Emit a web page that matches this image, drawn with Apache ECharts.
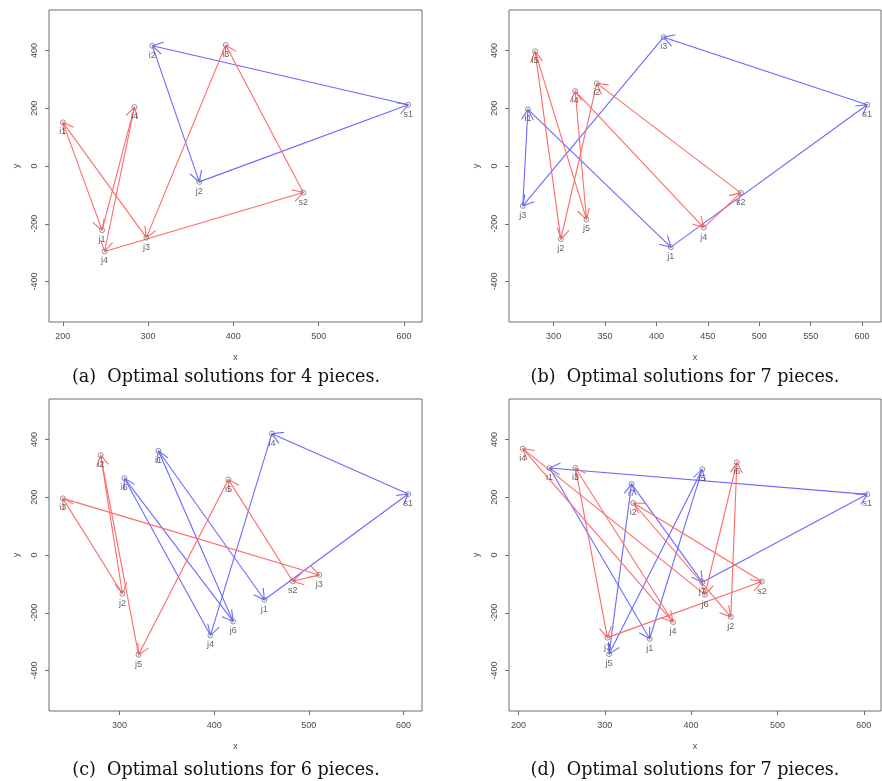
<!DOCTYPE html>
<html>
<head>
<meta charset="utf-8">
<script src="https://cdn.jsdelivr.net/npm/echarts@6/dist/echarts.min.js"></script>
<style>
  html, body { margin: 0; padding: 0; background: #fff; }
  #chart { width: 882px; height: 781px; }
</style>
</head>
<body>
<div id="chart"></div>
<script>
// ---- Panel (a): 4 pieces ----
const namesA = ['s1', 's2', 'i1', 'i2', 'i3', 'i4', 'j1', 'j2', 'j3', 'j4'];
const xA = [605, 482, 200, 305, 391, 284, 246, 360, 298, 249];
const yA = [212, -92, 151, 416, 419, 204, -222, -55, -248, -296];
const blueA = ['s1', 'i2', 'j2', 's1'];
const redA = ['s2', 'i3', 'j3', 'i1', 'j1', 'i4', 'j4', 's2'];
const xTicksA = [200, 300, 400, 500, 600];

// ---- Panel (b): 7 pieces ----
const namesB = ['s1', 's2', 'i1', 'i2', 'i3', 'i4', 'i5', 'j1', 'j2', 'j3', 'j4', 'j5'];
const xB = [605, 482, 275, 342, 407, 321, 282, 414, 307, 270, 446, 332];
const yB = [212, -93, 196, 286, 446, 259, 397, -281, -253, -138, -213, -185];
const blueB = ['s1', 'i3', 'j3', 'i1', 'j1', 's1'];
const redB = ['s2', 'i2', 'j2', 'i5', 'j5', 'i4', 'j4', 's2'];
const xTicksB = [300, 350, 400, 450, 500, 550, 600];

// ---- Panel (c): 6 pieces ----
const namesC = ['s1', 's2', 'i1', 'i2', 'i3', 'i4', 'i5', 'i6', 'j1', 'j2', 'j3', 'j4', 'j5', 'j6'];
const xC = [605, 483, 341, 280, 240, 461, 415, 305, 453, 303, 511, 396, 320, 420];
const yC = [211, -91, 361, 345, 196, 420, 261, 266, -155, -134, -69, -278, -345, -230];
const blueC = ['s1', 'i4', 'j4', 'i6', 'j6', 'i1', 'j1', 's1'];
const redC = ['s2', 'i5', 'j5', 'i2', 'j2', 'i3', 'j3', 's2'];
const xTicksC = [300, 400, 500, 600];

// ---- Panel (d): 7 pieces ----
const namesD = ['s1', 's2', 'i1', 'i2', 'i3', 'i4', 'i5', 'i6', 'i7', 'j1', 'j2', 'j3', 'j4', 'j5', 'j6', 'j7'];
const xD = [604, 482, 236, 333, 266, 205, 413, 453, 331, 352, 446, 303, 379, 305, 416, 413];
const yD = [210, -92, 301, 180, 301, 368, 297, 321, 246, -290, -214, -286, -232, -343, -137, -94];
const blueD = ['s1', 'i1', 'j1', 'i5', 'j5', 'i7', 'j7', 's1'];
const redD = ['s2', 'i2', 'j2', 'i6', 'j6', 'i4', 'j4', 'i3', 'j3', 's2'];
const xTicksD = [200, 300, 400, 500, 600];

const yTicks = [-400, -200, 0, 200, 400];
const yLim = [-500, 500];

const captions = [
  '(a)  Optimal solutions for 4 pieces.',
  '(b)  Optimal solutions for 7 pieces.',
  '(c)  Optimal solutions for 6 pieces.',
  '(d)  Optimal solutions for 7 pieces.'
];

const panels = [
  { names: namesA, x: xA, y: yA, blue: blueA, red: redA, ticks: xTicksA },
  { names: namesB, x: xB, y: yB, blue: blueB, red: redB, ticks: xTicksB },
  { names: namesC, x: xC, y: yC, blue: blueC, red: redC, ticks: xTicksC },
  { names: namesD, x: xD, y: yD, blue: blueD, red: redD, ticks: xTicksD }
];

// plot regions (pixels)
const boxes = [
  { left: 49, top: 10, width: 373, height: 312 },
  { left: 509, top: 10, width: 372, height: 312 },
  { left: 49, top: 399, width: 373, height: 312 },
  { left: 509, top: 399, width: 372, height: 312 }
];
const captionPos = [[226, 377], [685, 377], [226, 770], [685, 770]];

const BLUE = '#6a6aff';
const RED = '#ff6a6a';
const AXIS_GREY = '#6e6e6e';
const TEXT_GREY = '#4a4a4a';

// R-style range: data extent widened by 4% on each side
function padRange(lo, hi) {
  const d = (hi - lo) * 0.04;
  return [lo - d, hi + d];
}

function segments(p, route) {
  const out = [];
  for (let k = 0; k + 1 < route.length; k++) {
    const a = p.names.indexOf(route[k]);
    const b = p.names.indexOf(route[k + 1]);
    out.push([p.x[a], p.y[a], p.x[b], p.y[b]]);
  }
  return out;
}

// straight shaft with an open "V" arrowhead at the end point
function arrowRenderer(color) {
  return function (params, api) {
    const p0 = api.coord([api.value(0), api.value(1)]);
    const p1 = api.coord([api.value(2), api.value(3)]);
    const ang = Math.atan2(p1[1] - p0[1], p1[0] - p0[0]);
    const L = 12, w = Math.PI / 6;
    const h1 = [p1[0] - L * Math.cos(ang - w), p1[1] - L * Math.sin(ang - w)];
    const h2 = [p1[0] - L * Math.cos(ang + w), p1[1] - L * Math.sin(ang + w)];
    return {
      type: 'group',
      children: [
        { type: 'line', shape: { x1: p0[0], y1: p0[1], x2: p1[0], y2: p1[1] },
          style: { stroke: color, lineWidth: 1.1 } },
        { type: 'polyline', shape: { points: [h1, p1, h2] },
          style: { stroke: color, fill: null, lineWidth: 1.1 } }
      ]
    };
  };
}

const grid = [], xAxis = [], yAxis = [], series = [], graphic = [];

panels.forEach(function (p, i) {
  const b = boxes[i];
  grid.push({
    left: b.left, top: b.top, width: b.width, height: b.height,
    show: true, borderColor: AXIS_GREY, borderWidth: 1, backgroundColor: 'transparent'
  });
  const xr = padRange(Math.min.apply(null, p.x), Math.max.apply(null, p.x));
  const yr = padRange(yLim[0], yLim[1]);
  xAxis.push({
    gridIndex: i, type: 'value', min: xr[0], max: xr[1], position: 'bottom',
    name: 'x', nameLocation: 'middle', nameGap: 31,
    nameTextStyle: { fontFamily: 'Liberation Sans', fontSize: 9, color: TEXT_GREY },
    axisLine: { show: false, onZero: false },
    axisTick: { show: true, length: 4, inside: false, customValues: p.ticks,
      lineStyle: { color: AXIS_GREY } },
    axisLabel: { show: true, customValues: p.ticks, margin: 10,
      fontFamily: 'Liberation Sans', fontSize: 9, color: TEXT_GREY },
    splitLine: { show: false }
  });
  yAxis.push({
    gridIndex: i, type: 'value', min: yr[0], max: yr[1], position: 'left',
    name: 'y', nameLocation: 'middle', nameGap: 28,
    nameTextStyle: { fontFamily: 'Liberation Sans', fontSize: 9, color: TEXT_GREY },
    axisLine: { show: false, onZero: false },
    axisTick: { show: true, length: 4, inside: false, customValues: yTicks,
      lineStyle: { color: AXIS_GREY } },
    axisLabel: { show: true, customValues: yTicks, rotate: 90, margin: 10,
      fontFamily: 'Liberation Sans', fontSize: 9, color: TEXT_GREY },
    splitLine: { show: false }
  });

  [[p.blue, BLUE], [p.red, RED]].forEach(function (r) {
    series.push({
      type: 'custom', xAxisIndex: i, yAxisIndex: i,
      renderItem: arrowRenderer(r[1]),
      encode: { x: [0, 2], y: [1, 3] },
      data: segments(p, r[0]),
      silent: true, clip: false
    });
  });

  series.push({
    type: 'scatter', xAxisIndex: i, yAxisIndex: i,
    symbol: 'circle', symbolSize: 5,
    itemStyle: { color: 'rgba(255,255,255,0)', borderColor: '#777', borderWidth: 1 },
    label: { show: true, position: 'bottom', distance: 2,
      formatter: function (d) { return d.data[2]; },
      fontFamily: 'Liberation Sans', fontSize: 9, color: '#3c3c3c' },
    data: p.names.map(function (n, k) { return [p.x[k], p.y[k], n]; }),
    silent: true, z: 5
  });

  graphic.push({
    type: 'text', x: captionPos[i][0], y: captionPos[i][1],
    style: { text: captions[i], fill: '#111', font: '17.6px "DejaVu Serif"',
      align: 'center', verticalAlign: 'middle' }
  });
});

const chart = echarts.init(document.getElementById('chart'), null, { renderer: 'canvas' });
chart.setOption({
  animation: false,
  backgroundColor: '#fff',
  grid: grid, xAxis: xAxis, yAxis: yAxis, series: series, graphic: graphic
});
</script>
</body>
</html>
